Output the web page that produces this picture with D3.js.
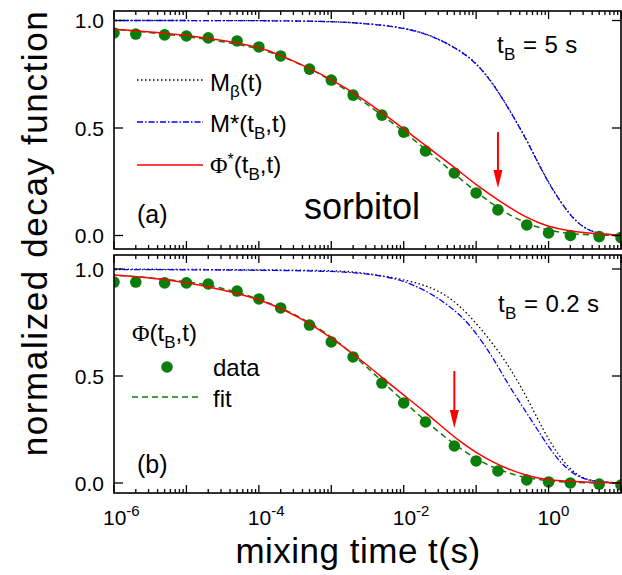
<!DOCTYPE html>
<html>
<head>
<meta charset="utf-8">
<script src="https://cdn.jsdelivr.net/npm/d3@7"></script>
<style>
  body { margin: 0; background: #fff; }
  text { font-family: "Liberation Sans", Arial, sans-serif; fill: #000; }
</style>
</head>
<body>
<svg id="chart" width="622" height="575"></svg>
<script>
// data
const tData = [1e-6, 2e-6, 5e-6, 1e-5, 2e-5, 5e-5, 1e-4, 2e-4, 5e-4, 1e-3, 2e-3, 5e-3,
               1e-2, 2e-2, 5e-2, 0.1, 0.2, 0.5, 1, 2, 5, 10];

// panel (a), tB = 5 s
const dataA = [0.942, 0.937, 0.933, 0.928, 0.919, 0.905, 0.877, 0.835, 0.774, 0.723, 0.653,
               0.560, 0.481, 0.393, 0.291, 0.198, 0.119, 0.049, 0.012, 0.0, -0.005, -0.01];
// curves as [log10 t, value]
const fitA = [[-6.2, 0.965], [-6, 0.96], [-5, 0.928], [-4, 0.877], [-3.5, 0.81], [-3, 0.725], [-2.5, 0.61],
              [-2, 0.485], [-1.5, 0.345], [-1, 0.2], [-0.5, 0.08], [0, 0.018], [0.5, 0.002], [1, 0], [1.2, 0]];
const phiStarA = [[-6.2, 0.965], [-6, 0.96], [-4.81, 0.928], [-3.98, 0.877], [-3.71, 0.84], [-3.34, 0.784],
                  [-2.98, 0.723], [-2.61, 0.646], [-2.32, 0.576], [-2.01, 0.499], [-1.68, 0.413],
                  [-1.31, 0.32], [-1.0, 0.235], [-0.7, 0.165], [-0.3, 0.08], [-0.01, 0.041],
                  [0.29, 0.02], [0.68, 0.007], [1, 0.002], [1.2, 0.001]];
const mStarA = [[-6.2, 1.0], [-4, 1.0], [-3, 0.996], [-2.61, 0.988], [-2.15, 0.974], [-1.68, 0.942],
                [-1.23, 0.863], [-1.0, 0.802], [-0.77, 0.709], [-0.54, 0.584], [-0.3, 0.444],
                [-0.08, 0.291], [0.15, 0.16], [0.39, 0.055], [0.61, 0.015], [0.8, 0.004], [1.2, 0]];
const mBetaA = [[-6.2, 1.0], [-4, 1.0], [-3, 0.996], [-2.61, 0.988], [-2.15, 0.975], [-1.68, 0.943],
                [-1.23, 0.865], [-1.0, 0.804], [-0.77, 0.711], [-0.54, 0.586], [-0.3, 0.446],
                [-0.08, 0.293], [0.15, 0.162], [0.39, 0.056], [0.61, 0.015], [0.8, 0.004], [1.2, 0]];

// panel (b), tB = 0.2 s
const dataB = [0.939, 0.939, 0.935, 0.935, 0.930, 0.897, 0.860, 0.818, 0.738, 0.659, 0.589,
               0.467, 0.374, 0.285, 0.173, 0.103, 0.056, 0.014, 0.005, 0.0, -0.005, -0.009];
const fitB = [[-6.2, 0.976], [-6, 0.972], [-5, 0.945], [-4.5, 0.912], [-4, 0.862], [-3.5, 0.79], [-3, 0.69],
              [-2.5, 0.54], [-2, 0.38], [-1.5, 0.23], [-1, 0.105], [-0.5, 0.035], [0, 0.007],
              [0.5, 0.0], [1, 0], [1.2, 0]];
const phiStarB = [[-6.2, 0.976], [-6, 0.972], [-5.26, 0.952], [-4.68, 0.917], [-3.99, 0.863], [-3.34, 0.762],
                  [-2.61, 0.584], [-2.15, 0.449], [-1.68, 0.327], [-1.23, 0.19], [-0.77, 0.093],
                  [-0.3, 0.03], [0.15, 0.006], [1, 0], [1.2, 0]];
const mStarB = [[-6.2, 0.998], [-4, 0.995], [-3, 0.99], [-2.61, 0.981], [-2.15, 0.963], [-1.68, 0.902],
                [-1.23, 0.794], [-1.0, 0.701], [-0.77, 0.589], [-0.54, 0.449], [-0.3, 0.327],
                [-0.08, 0.21], [0.15, 0.095], [0.39, 0.03], [0.61, 0.006], [1, 0], [1.2, 0]];
const mBetaB = [[-6.2, 1.0], [-3, 0.995], [-2.61, 0.986], [-1.68, 0.935], [-1.23, 0.841],
                [-0.77, 0.654], [-0.54, 0.542], [-0.3, 0.402], [-0.08, 0.25], [0.15, 0.12],
                [0.39, 0.032], [0.61, 0.007], [1, 0], [1.2, 0]];

// arrows: [t, from value, to value]
const arrowA = [0.2, 0.481, 0.221];
const arrowB = [0.05, 0.523, 0.257];

const xTickLabels = [[1e-6, "-6"], [1e-4, "-4"], [1e-2, "-2"], [1, "0"]];
const yTickValues = [0, 0.5, 1];
const yTickLabels = ["0.0", "0.5", "1.0"];

// layout
const left = 114, right = 621;
const panels = [
  { top: 11, bottom: 249, y0: 235.5, y1: 20.5, data: dataA, fit: fitA, phi: phiStarA, mstar: mStarA, mbeta: mBetaA, arrow: arrowA, id: "a" },
  { top: 255, bottom: 493, y0: 483, y1: 269, data: dataB, fit: fitB, phi: phiStarB, mstar: mStarB, mbeta: mBetaB, arrow: arrowB, id: "b" }
];

const green = "#0a7d0a";
const svg = d3.select("#chart");

const xScale = d3.scaleLog().domain([1e-6, 10]).range([left, right]);

panels.forEach((p) => {
  const yScale = d3.scaleLinear().domain([0, 1]).range([p.y0, p.y1]);
  const g = svg.append("g");

  g.append("clipPath").attr("id", "clip-" + p.id)
    .append("rect").attr("x", left).attr("y", p.top)
    .attr("width", right - left).attr("height", p.bottom - p.top);

  const plot = g.append("g").attr("clip-path", `url(#clip-${p.id})`);

  const line = d3.line()
    .x((d) => xScale(Math.pow(10, d[0])))
    .y((d) => yScale(d[1]))
    .curve(d3.curveBasis);

  plot.append("path").attr("d", line(p.mbeta))
    .attr("fill", "none").attr("stroke", "#000").attr("stroke-width", 1.3)
    .attr("stroke-dasharray", "1.5,2.5");
  plot.append("path").attr("d", line(p.mstar))
    .attr("fill", "none").attr("stroke", "#0000ff").attr("stroke-width", 1.3)
    .attr("stroke-dasharray", "6,2,1.5,2");
  plot.append("path").attr("d", line(p.fit))
    .attr("fill", "none").attr("stroke", green).attr("stroke-width", 1.5)
    .attr("stroke-dasharray", "6,4");

  plot.selectAll("circle")
    .data(tData.map((t, i) => [t, p.data[i]]))
    .join("circle")
    .attr("cx", (d) => xScale(d[0]))
    .attr("cy", (d) => yScale(d[1]))
    .attr("r", 5.8)
    .attr("fill", green);

  plot.append("path").attr("d", line(p.phi))
    .attr("fill", "none").attr("stroke", "red").attr("stroke-width", 1.5);

  // arrow: shaft and head
  const ax = xScale(p.arrow[0]);
  const ay1 = yScale(p.arrow[1]);
  const ay2 = yScale(p.arrow[2]);
  g.append("line")
    .attr("x1", ax).attr("x2", ax).attr("y1", ay1).attr("y2", ay2 - 16)
    .attr("stroke", "red").attr("stroke-width", 2);
  g.append("path")
    .attr("d", `M${ax - 4.5},${ay2 - 18} L${ax + 4.5},${ay2 - 18} L${ax},${ay2} Z`)
    .attr("fill", "red");

  // frame
  g.append("rect").attr("x", left).attr("y", p.top)
    .attr("width", right - left).attr("height", p.bottom - p.top)
    .attr("fill", "none").attr("stroke", "#000").attr("stroke-width", 1.6);

  // x ticks, inward on top and bottom
  xScale.ticks().forEach((t) => {
    const m = Math.round(t / Math.pow(10, Math.floor(Math.log10(t) + 1e-9)));
    const len = m === 1 ? 8 : 4;
    const x = xScale(t);
    g.append("line").attr("x1", x).attr("x2", x)
      .attr("y1", p.bottom).attr("y2", p.bottom - len)
      .attr("stroke", "#000").attr("stroke-width", 1.3);
    g.append("line").attr("x1", x).attr("x2", x)
      .attr("y1", p.top).attr("y2", p.top + len)
      .attr("stroke", "#000").attr("stroke-width", 1.3);
  });

  // y ticks, inward left and right
  yTickValues.forEach((v, i) => {
    const y = yScale(v);
    g.append("line").attr("x1", left).attr("x2", left + 9).attr("y1", y).attr("y2", y)
      .attr("stroke", "#000").attr("stroke-width", 1.3);
    g.append("line").attr("x1", right).attr("x2", right - 9).attr("y1", y).attr("y2", y)
      .attr("stroke", "#000").attr("stroke-width", 1.3);
    g.append("text").attr("x", 104).attr("y", y + 7.5)
      .attr("text-anchor", "end").attr("font-size", 21)
      .text(yTickLabels[i]);
  });

  g.append("text").attr("x", 137).attr("y", p.id === "a" ? 223 : 473)
    .attr("font-size", 25).text(`(${p.id})`);
});

// x tick labels
xTickLabels.forEach(([t, e]) => {
  const txt = svg.append("text").attr("x", xScale(t) - 11).attr("y", 525).attr("font-size", 21);
  txt.append("tspan").text("10");
  txt.append("tspan").attr("dy", -9).attr("font-size", 15).text(e);
});

// axis titles
svg.append("text").attr("x", 358).attr("y", 563).attr("text-anchor", "middle")
  .attr("font-size", 35).attr("letter-spacing", 0.5).text("mixing time t(s)");
svg.append("text").attr("transform", "translate(47,233) rotate(-90)")
  .attr("text-anchor", "middle").attr("font-size", 35).attr("letter-spacing", 1.6)
  .text("normalized decay function");

svg.append("text").attr("x", 304).attr("y", 219).attr("font-size", 36).text("sorbitol");

// tB annotations
function tB(x, y, value) {
  const t = svg.append("text").attr("x", x).attr("y", y).attr("font-size", 24).attr("letter-spacing", 0.4);
  t.append("tspan").text("t");
  t.append("tspan").attr("dy", 7).attr("font-size", 17).text("B");
  t.append("tspan").attr("dy", -7).text(" = " + value + " s");
}
tB(497, 53, "5");
tB(498, 312, "0.2");

// legend (a)
const legA = [
  { y: 80, stroke: "#000", dash: "1.5,2.5" },
  { y: 122, stroke: "#0000ff", dash: "6,2,1.5,2" },
  { y: 165, stroke: "red", dash: null }
];
legA.forEach((d) => {
  svg.append("line").attr("x1", 137).attr("x2", 203).attr("y1", d.y).attr("y2", d.y)
    .attr("stroke", d.stroke).attr("stroke-width", 1.4)
    .attr("stroke-dasharray", d.dash);
});

let t1 = svg.append("text").attr("x", 210).attr("y", 91).attr("font-size", 24);
t1.append("tspan").text("M");
t1.append("tspan").attr("dy", 6).attr("font-size", 17).text("β");
t1.append("tspan").attr("dy", -6).text("(t)");

let t2 = svg.append("text").attr("x", 210).attr("y", 132).attr("font-size", 24);
t2.append("tspan").text("M*(t");
t2.append("tspan").attr("dy", 7).attr("font-size", 17).text("B");
t2.append("tspan").attr("dy", -7).text(",t)");

let t3 = svg.append("text").attr("x", 210).attr("y", 173).attr("font-size", 24);
t3.append("tspan").attr("font-family", "Liberation Serif, serif").text("Φ");
t3.append("tspan").attr("dy", -8).attr("font-size", 16).text("*");
t3.append("tspan").attr("dy", 8).text("(t");
t3.append("tspan").attr("dy", 7).attr("font-size", 17).text("B");
t3.append("tspan").attr("dy", -7).text(",t)");

// legend (b)
let t4 = svg.append("text").attr("x", 132).attr("y", 341).attr("font-size", 24);
t4.append("tspan").attr("font-family", "Liberation Serif, serif").text("Φ");
t4.append("tspan").text("(t");
t4.append("tspan").attr("dy", 7).attr("font-size", 17).text("B");
t4.append("tspan").attr("dy", -7).text(",t)");

svg.append("circle").attr("cx", 167).attr("cy", 367).attr("r", 5.8).attr("fill", green);
svg.append("text").attr("x", 213).attr("y", 376).attr("font-size", 24).text("data");
svg.append("line").attr("x1", 132).attr("x2", 198).attr("y1", 397).attr("y2", 397)
  .attr("stroke", green).attr("stroke-width", 1.5).attr("stroke-dasharray", "6,4");
svg.append("text").attr("x", 213).attr("y", 407).attr("font-size", 24).text("fit");
</script>
</body>
</html>
